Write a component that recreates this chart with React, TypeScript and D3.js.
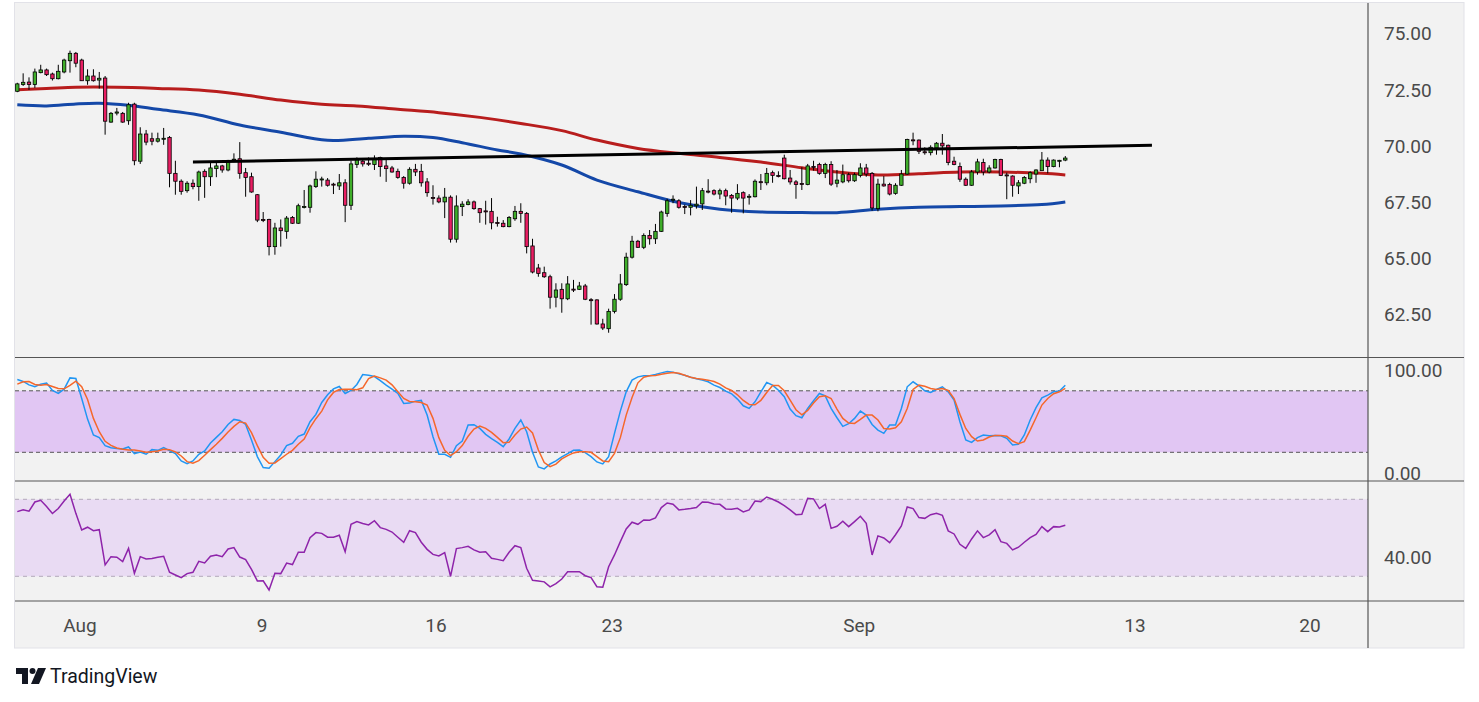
import React from 'react';
import * as d3 from 'd3';

// 4h candles (index 0 = first visible candle)
const opens = [72.42, 72.72, 72.83, 72.72, 73.25, 73.37, 73.19, 72.98, 73.28, 73.78,
  74.11, 73.81, 72.89, 73.10, 72.92, 73.01, 71.05, 71.45, 71.44, 71.11,
  71.85, 69.31, 70.52, 70.31, 70.20, 70.30, 70.37, 68.77, 68.42, 68.00,
  68.33, 68.18, 68.86, 68.62, 68.98, 69.10, 68.92, 69.37, 69.42, 68.80,
  68.62, 67.82, 66.72, 66.72, 65.51, 66.34, 66.19, 66.81, 66.55, 67.25,
  67.26, 68.18, 68.50, 68.47, 68.29, 68.21, 68.35, 67.35, 69.16, 69.31,
  69.22, 69.16, 69.48, 69.10, 69.01, 68.86, 68.59, 68.33, 68.95, 68.86,
  68.39, 67.70, 67.67, 67.50, 67.71, 65.84, 67.29, 67.38, 67.50, 67.20,
  67.10, 67.08, 66.58, 66.55, 66.40, 66.75, 67.08, 66.99, 65.54, 64.56,
  64.35, 64.17, 63.26, 63.61, 63.19, 63.62, 63.61, 63.76, 63.15, 63.14,
  62.07, 61.86, 62.63, 63.17, 63.82, 65.04, 65.75, 65.48, 66.01, 65.86,
  66.19, 66.99, 67.58, 67.55, 67.30, 67.26, 67.33, 67.41, 67.98, 68.00,
  67.85, 68.00, 67.79, 67.67, 67.91, 67.72, 67.73, 68.40, 68.35, 68.80,
  68.67, 69.45, 68.56, 68.39, 68.32, 68.27, 69.08, 69.16, 68.77, 69.16,
  68.33, 68.39, 68.71, 68.44, 68.68, 69.01, 68.77, 67.20, 68.29, 68.27,
  67.88, 68.24, 68.74, 70.26, 70.25, 69.73, 69.69, 69.90, 70.11, 70.02,
  69.31, 69.07, 68.51, 68.24, 68.83, 69.25, 68.83, 69.01, 69.39, 68.70,
  68.65, 68.21, 68.33, 68.53, 68.74, 68.89, 69.36, 69.07, 69.33, 69.36];
const highs = [72.80, 73.22, 73.04, 73.43, 73.60, 73.43, 73.25, 73.60, 73.87, 74.23,
  74.17, 73.87, 73.40, 73.40, 73.28, 73.10, 71.50, 71.68, 71.50, 71.91,
  71.91, 70.82, 70.70, 70.58, 70.58, 70.79, 70.43, 69.33, 68.50, 68.42,
  68.50, 68.89, 68.95, 69.24, 69.27, 69.15, 69.37, 69.66, 70.16, 69.01,
  68.80, 67.85, 67.05, 66.75, 66.57, 66.72, 66.87, 66.87, 67.42, 68.03,
  68.27, 68.86, 68.62, 68.56, 68.35, 68.74, 68.51, 69.33, 69.48, 69.45,
  69.48, 69.57, 69.51, 69.39, 69.10, 68.98, 68.65, 69.04, 69.19, 69.19,
  68.56, 68.24, 67.79, 68.12, 67.79, 67.79, 67.53, 67.62, 67.56, 67.23,
  67.55, 67.67, 66.84, 66.69, 66.87, 67.32, 67.44, 67.05, 65.86, 64.74,
  64.62, 64.26, 63.88, 63.88, 64.20, 64.03, 63.94, 63.85, 63.22, 63.17,
  62.30, 62.75, 63.40, 64.29, 65.24, 65.99, 65.81, 66.10, 66.25, 66.52,
  67.11, 67.64, 67.79, 67.62, 67.38, 67.58, 68.18, 68.12, 68.51, 68.06,
  68.09, 68.09, 67.85, 68.29, 67.97, 67.85, 68.50, 68.74, 69.01, 68.89,
  68.86, 69.60, 68.92, 68.47, 69.04, 69.19, 69.33, 69.24, 69.24, 69.31,
  68.92, 69.16, 68.80, 68.80, 69.22, 69.19, 68.83, 68.53, 68.65, 68.35,
  68.33, 68.92, 70.31, 70.58, 70.28, 69.93, 70.02, 70.16, 70.52, 70.05,
  69.51, 69.25, 68.59, 68.92, 69.42, 69.42, 69.13, 69.42, 69.42, 68.80,
  68.68, 68.47, 68.65, 68.86, 68.95, 69.72, 69.48, 69.39, 69.37, 69.54];
const lows = [72.38, 72.66, 72.48, 72.57, 73.22, 73.10, 72.90, 72.95, 73.22, 73.25,
  73.49, 72.89, 72.71, 72.85, 72.54, 70.49, 71.02, 71.35, 71.02, 70.93,
  69.13, 69.19, 70.02, 70.02, 70.14, 70.04, 68.15, 67.82, 67.82, 67.91,
  68.06, 67.55, 67.68, 68.21, 68.60, 68.80, 68.86, 69.27, 68.53, 67.73,
  67.91, 66.60, 66.60, 65.12, 65.15, 65.51, 65.86, 66.52, 66.52, 67.21,
  67.02, 68.12, 68.18, 68.18, 67.85, 68.03, 66.60, 67.14, 69.01, 69.07,
  69.10, 68.92, 68.62, 68.39, 68.80, 68.53, 68.09, 68.27, 68.65, 68.18,
  67.73, 67.38, 67.44, 66.78, 65.69, 65.69, 66.87, 67.35, 67.15, 66.57,
  66.49, 66.28, 66.40, 66.37, 66.37, 66.66, 66.57, 65.21, 64.32, 64.17,
  64.12, 62.75, 62.81, 62.57, 63.13, 63.49, 63.58, 63.13, 62.04, 62.04,
  61.80, 61.68, 62.54, 63.10, 63.76, 64.98, 65.45, 65.40, 65.60, 65.63,
  66.16, 66.84, 67.44, 67.20, 66.96, 66.90, 67.20, 67.14, 67.88, 67.79,
  67.62, 67.35, 67.02, 67.58, 66.99, 67.38, 67.70, 68.03, 68.24, 68.35,
  68.59, 68.50, 68.27, 67.64, 68.03, 68.24, 68.89, 68.71, 68.56, 68.21,
  68.15, 68.33, 68.36, 68.39, 68.59, 68.62, 67.11, 67.08, 68.18, 67.79,
  67.82, 68.21, 68.71, 70.02, 69.63, 69.60, 69.57, 69.60, 69.60, 69.13,
  69.13, 68.39, 68.21, 68.21, 68.71, 68.68, 68.77, 68.98, 68.65, 67.62,
  67.73, 67.85, 68.29, 68.33, 68.35, 68.89, 68.77, 69.04, 69.04, 69.31];
const closes = [72.75, 72.82, 72.72, 73.28, 73.37, 73.16, 72.98, 73.31, 73.81, 74.11,
  73.67, 72.89, 73.10, 72.89, 73.00, 71.09, 71.44, 71.50, 71.05, 71.82,
  69.33, 70.52, 70.16, 70.20, 70.31, 70.33, 68.77, 68.42, 67.97, 68.33,
  68.18, 68.83, 68.62, 69.01, 69.10, 68.92, 69.28, 69.40, 68.77, 68.59,
  67.94, 66.69, 66.70, 65.51, 66.34, 66.22, 66.78, 66.55, 67.33, 67.30,
  68.21, 68.51, 68.52, 68.24, 68.28, 68.35, 67.35, 69.19, 69.39, 69.19,
  69.20, 69.42, 69.07, 68.98, 68.83, 68.59, 68.33, 68.95, 68.83, 68.35,
  67.91, 67.66, 67.50, 67.71, 65.84, 67.32, 67.40, 67.50, 67.20, 67.02,
  67.07, 66.57, 66.57, 66.40, 66.81, 67.08, 66.99, 65.51, 64.38, 64.32,
  64.17, 63.26, 63.58, 63.19, 63.85, 63.60, 63.76, 63.17, 63.12, 62.07,
  61.89, 62.63, 63.17, 63.85, 65.04, 65.75, 65.48, 66.01, 65.86, 66.19,
  67.05, 67.55, 67.62, 67.26, 67.28, 67.35, 67.40, 68.00, 67.96, 67.85,
  68.00, 67.76, 67.67, 67.88, 67.67, 67.75, 68.42, 68.38, 68.77, 68.68,
  68.64, 68.53, 68.39, 68.27, 68.31, 69.10, 69.06, 68.77, 69.16, 68.29,
  68.47, 68.71, 68.44, 68.71, 69.01, 68.74, 67.23, 68.29, 68.21, 67.85,
  68.24, 68.74, 70.28, 70.24, 69.75, 69.71, 69.93, 70.11, 69.99, 69.25,
  69.16, 68.51, 68.24, 68.83, 69.28, 68.83, 69.01, 69.39, 68.68, 68.66,
  68.24, 68.35, 68.59, 68.80, 68.92, 69.36, 69.07, 69.36, 69.35, 69.45];

// moving averages, read at a few candle positions
const redIdx = [0, 5, 10, 17, 24, 31, 38, 45, 52, 58, 65, 72, 79, 86, 93, 99, 106, 113, 120, 127, 134, 140, 147, 154, 161, 168, 175, 179];
const redMA = [72.49, 72.54, 72.60, 72.60, 72.55, 72.48, 72.29, 72.03, 71.84, 71.77, 71.62, 71.47, 71.26, 70.99, 70.67, 70.25, 69.88, 69.66, 69.48, 69.27, 69.02, 68.83, 68.70, 68.75, 68.83, 68.83, 68.77, 68.70];
const blueIdx = [0, 5, 10, 14, 19, 24, 31, 38, 45, 53, 60, 66, 71, 76, 82, 86, 93, 99, 106, 113, 120, 127, 134, 140, 147, 154, 161, 168, 175, 179];
const blueMA = [71.82, 71.77, 71.86, 71.89, 71.80, 71.62, 71.37, 70.92, 70.60, 70.24, 70.33, 70.42, 70.36, 70.13, 69.81, 69.63, 69.14, 68.47, 67.95, 67.47, 67.17, 67.05, 67.03, 67.02, 67.17, 67.26, 67.29, 67.32, 67.38, 67.50];

// drawn trend line
const trendIdx = [30, 193.8];
const trendVal = [69.27, 70.02];

const stochK = [91.0, 89.1, 85.8, 83.9, 86.5, 87.5, 80.3, 77.4, 81.6, 92.6,
  92.0, 72.5, 52.4, 36.9, 34.3, 26.5, 24.5, 23.6, 23.2, 25.2,
  18.7, 20.3, 18.1, 22.6, 21.9, 24.5, 21.6, 18.7, 11.6, 9.0,
  11.6, 18.1, 21.3, 29.1, 34.6, 40.1, 47.2, 52.1, 51.1, 47.2,
  32.0, 15.8, 5.1, 4.4, 10.9, 17.4, 26.5, 28.8, 35.6, 37.8,
  49.8, 57.0, 68.6, 76.1, 81.9, 84.2, 77.4, 80.3, 86.2, 95.9,
  95.2, 93.9, 90.0, 85.5, 81.6, 77.4, 67.7, 68.0, 69.9, 70.6,
  56.3, 35.2, 18.1, 18.1, 15.1, 26.5, 31.0, 46.6, 46.9, 43.3,
  37.5, 33.3, 29.7, 25.5, 33.0, 43.3, 51.5, 40.1, 20.0, 5.7,
  3.8, 8.6, 11.6, 15.5, 18.7, 21.9, 22.3, 19.7, 15.8, 10.6,
  8.6, 15.8, 38.5, 60.2, 79.0, 90.4, 93.6, 94.6, 94.6, 95.9,
  97.5, 98.8, 98.2, 96.5, 95.2, 93.3, 91.7, 90.4, 88.8, 85.5,
  83.2, 79.7, 77.1, 71.9, 65.4, 62.8, 69.3, 79.0, 88.1, 85.5,
  80.6, 74.2, 62.2, 55.7, 53.7, 62.8, 70.3, 77.4, 75.1, 62.8,
  53.7, 45.3, 47.9, 53.1, 60.2, 56.3, 47.2, 41.7, 38.5, 46.6,
  46.6, 62.8, 83.9, 88.8, 84.9, 80.0, 78.4, 81.3, 83.9, 79.0,
  70.9, 49.8, 32.0, 29.7, 34.3, 36.9, 36.2, 36.5, 36.2, 33.6,
  27.1, 27.8, 36.9, 51.5, 63.5, 73.2, 75.8, 79.0, 79.7, 85.5];
const stochD = [86.5, 88.8, 89.1, 86.2, 85.5, 86.2, 84.2, 82.3, 81.9, 85.2,
  89.4, 83.9, 71.6, 53.1, 40.1, 30.7, 26.8, 24.2, 22.9, 22.3,
  22.3, 21.3, 20.0, 20.6, 21.3, 22.9, 22.6, 20.3, 16.4, 10.9,
  9.3, 11.9, 17.1, 22.6, 27.8, 33.6, 39.8, 45.3, 49.8, 48.5,
  39.1, 26.5, 15.1, 9.3, 9.6, 13.8, 18.1, 21.9, 27.8, 33.0,
  44.0, 52.8, 60.2, 71.2, 78.4, 81.3, 81.6, 81.6, 81.0, 82.9,
  92.0, 94.3, 92.6, 90.4, 85.8, 79.0, 72.5, 69.6, 69.3, 68.6,
  66.1, 53.1, 34.3, 21.9, 16.8, 20.6, 26.5, 35.6, 42.7, 45.6,
  43.3, 39.5, 34.6, 29.4, 29.7, 36.9, 42.7, 44.6, 38.8, 22.3,
  10.0, 6.0, 8.5, 13.5, 16.8, 19.4, 20.6, 20.6, 20.0, 15.8,
  11.6, 10.9, 19.0, 34.3, 56.3, 73.5, 87.8, 93.3, 94.6, 94.9,
  96.2, 97.2, 97.8, 97.2, 95.2, 93.3, 92.0, 91.3, 90.4, 89.1,
  86.5, 82.9, 80.3, 76.1, 70.6, 66.7, 66.4, 70.6, 78.4, 85.2,
  85.2, 80.0, 70.9, 61.5, 56.6, 60.9, 68.0, 74.2, 75.1, 72.5,
  62.2, 53.1, 48.5, 48.2, 52.1, 56.3, 56.3, 51.5, 43.3, 42.7,
  44.0, 49.8, 62.8, 81.3, 85.5, 84.5, 82.3, 81.3, 82.3, 80.3,
  72.5, 57.0, 43.3, 35.2, 31.0, 32.0, 34.9, 36.5, 36.5, 35.6,
  31.0, 28.4, 30.4, 41.7, 53.7, 66.1, 72.5, 77.1, 79.0, 82.3];
const rsi = [63.6, 64.6, 63.8, 68.6, 69.5, 66.2, 62.6, 65.2, 69.1, 72.6,
  62.7, 54.1, 55.5, 53.7, 54.2, 35.9, 40.2, 39.9, 37.6, 44.5,
  31.6, 40.2, 39.0, 39.2, 39.9, 40.4, 32.1, 30.7, 29.3, 31.4,
  32.1, 37.8, 36.9, 40.4, 41.1, 40.2, 44.2, 44.9, 40.0, 38.7,
  33.6, 27.6, 27.7, 22.9, 31.6, 31.4, 36.9, 36.1, 42.5, 42.5,
  50.1, 52.7, 52.3, 50.3, 50.3, 51.3, 42.8, 57.0, 58.4, 57.4,
  56.7, 58.9, 55.3, 54.4, 53.0, 50.3, 47.7, 53.7, 52.7, 47.7,
  44.0, 41.4, 40.6, 42.3, 30.0, 44.4, 44.9, 45.6, 43.7, 42.5,
  42.8, 39.4, 38.8, 38.1, 42.5, 45.9, 44.9, 34.2, 27.9, 27.6,
  27.1, 24.5, 26.2, 28.6, 32.4, 32.4, 32.4, 30.3, 29.3, 24.6,
  24.3, 35.0, 41.1, 48.0, 54.6, 58.1, 57.0, 59.3, 59.1, 60.3,
  65.7, 68.1, 67.4, 64.5, 64.8, 65.2, 65.7, 68.6, 68.5, 67.6,
  67.4, 65.0, 64.8, 65.3, 63.4, 64.5, 69.1, 68.8, 71.2, 70.0,
  68.6, 66.7, 64.5, 62.0, 62.2, 70.5, 70.2, 65.2, 67.4, 54.9,
  56.0, 58.6, 55.8, 58.4, 61.2, 57.5, 41.1, 51.0, 49.9, 47.5,
  51.6, 56.2, 66.0, 65.2, 60.5, 60.1, 62.0, 62.7, 61.7, 53.6,
  52.0, 46.6, 44.5, 49.4, 53.6, 50.1, 51.5, 54.2, 48.0, 47.1,
  43.7, 45.1, 47.7, 50.1, 51.8, 55.8, 53.2, 55.8, 55.6, 56.5];

const priceTicks = [75, 72.5, 70, 67.5, 65, 62.5];
const stochTicks = [100, 0];
const stochBand = [20, 80];
const rsiTicks = [40];
const rsiBand = [30, 70];
const dateLabels = ['Aug', '9', '16', '23', 'Sep', '13', '20'];
const datePos = [10.7, 41.8, 71.5, 101.6, 143.8, 190.9, 220.8];

const UP = '#3fae2a';
const DOWN = '#e91e63';
const AXIS_TEXT = '#4a4a4a';
const SEP = '#555555';

const left = 15;
const right = 1368;
const frameR = 1464;
const priceTop = 3;
const priceBot = 357.5;
const stochBot = 481;
const rsiBot = 601;
const axisBot = 648;

export default function App() {
  const n = closes.length;
  const x = d3.scaleLinear().domain([0, n - 1]).range([17.3, 1065.3]);
  const yP = d3.scaleLinear().domain([62.5, 75]).range([314.3, 33.3]);
  const yS = d3.scaleLinear().domain([0, 100]).range([472.8, 370.3]);
  const yR = d3.scaleLinear().domain([30, 70]).range([576.3, 499.3]);

  const maLine = d3.line<[number, number]>()
    .x(d => x(d[0]))
    .y(d => yP(d[1]))
    .curve(d3.curveCatmullRom.alpha(0.5));
  const redPts = redIdx.map((d, i) => [d, redMA[i]] as [number, number]);
  const bluePts = blueIdx.map((d, i) => [d, blueMA[i]] as [number, number]);

  const stochLine = d3.line<number>().x((d, i) => x(i)).y(d => yS(d));
  const rsiLine = d3.line<number>().x((d, i) => x(i)).y(d => yR(d));

  const bodyW = 3.4;

  return (
    <div style={{ position: 'absolute', left: 0, top: 0 }}>
      <svg width={1479} height={702} style={{ display: 'block', background: '#ffffff' }}
        fontFamily="Roboto, 'Noto Sans', sans-serif">
        <defs>
          <clipPath id="clipPrice"><rect x={left} y={priceTop} width={right - left} height={priceBot - priceTop} /></clipPath>
          <clipPath id="clipStoch"><rect x={left} y={priceBot} width={right - left} height={stochBot - priceBot} /></clipPath>
          <clipPath id="clipRsi"><rect x={left} y={stochBot} width={right - left} height={rsiBot - stochBot} /></clipPath>
        </defs>

        <rect x={14.5} y={2.5} width={frameR - 14.5} height={axisBot - 2.5} fill="#f2f2f2" stroke="#e2e2e8" strokeWidth={1} />

        {/* price pane */}
        <g clipPath="url(#clipPrice)">
          <path d={maLine(redPts) || ''} fill="none" stroke="#b81d1d" strokeWidth={3} />
          <path d={maLine(bluePts) || ''} fill="none" stroke="#1448a8" strokeWidth={3} />
          {closes.map((c, i) => {
            const o = opens[i];
            const top = yP(Math.max(o, c));
            const h = Math.max(1, yP(Math.min(o, c)) - top);
            return (
              <g key={i}>
                <line x1={x(i)} x2={x(i)} y1={yP(highs[i])} y2={yP(lows[i])} stroke="#000" strokeWidth={1} />
                <rect x={x(i) - bodyW / 2} y={top} width={bodyW} height={h}
                  fill={c >= o ? UP : DOWN} stroke="#000" strokeWidth={0.8} />
              </g>
            );
          })}
          <line x1={x(trendIdx[0])} x2={x(trendIdx[1])} y1={yP(trendVal[0])} y2={yP(trendVal[1])}
            stroke="#000" strokeWidth={3} />
        </g>

        {/* stochastic pane */}
        <rect x={left} y={yS(stochBand[1])} width={right - left} height={yS(stochBand[0]) - yS(stochBand[1])} fill="#e1c6f3" />
        {stochBand.map(v => (
          <line key={v} x1={left} x2={right} y1={yS(v)} y2={yS(v)} stroke="#555" strokeWidth={1} strokeDasharray="4 3" />
        ))}
        <g clipPath="url(#clipStoch)">
          <path d={stochLine(stochK) || ''} fill="none" stroke="#2196f3" strokeWidth={1.5} />
          <path d={stochLine(stochD) || ''} fill="none" stroke="#f5672b" strokeWidth={1.5} />
        </g>

        {/* RSI pane */}
        <rect x={left} y={yR(rsiBand[1])} width={right - left} height={yR(rsiBand[0]) - yR(rsiBand[1])} fill="#e9dbf3" />
        {rsiBand.map(v => (
          <line key={v} x1={left} x2={right} y1={yR(v)} y2={yR(v)} stroke="#b3a9bb" strokeWidth={1} strokeDasharray="4 4" />
        ))}
        <g clipPath="url(#clipRsi)">
          <path d={rsiLine(rsi) || ''} fill="none" stroke="#8e24aa" strokeWidth={1.5} />
        </g>

        {/* separators */}
        {[priceBot, stochBot, rsiBot].map(y => (
          <line key={y} x1={left} x2={frameR} y1={y} y2={y} stroke={SEP} strokeWidth={1.2} />
        ))}
        <line x1={right} x2={right} y1={priceTop} y2={axisBot} stroke={SEP} strokeWidth={1.2} />

        {/* axis labels */}
        <g fill={AXIS_TEXT} fontSize={19}>
          {priceTicks.map(v => (
            <text key={'p' + v} x={1384} y={yP(v) + 7}>{v.toFixed(2)}</text>
          ))}
          {stochTicks.map(v => (
            <text key={'s' + v} x={1384} y={yS(v) + 7}>{v.toFixed(2)}</text>
          ))}
          {rsiTicks.map(v => (
            <text key={'r' + v} x={1384} y={yR(v) + 7}>{v.toFixed(2)}</text>
          ))}
          {dateLabels.map((t, i) => (
            <text key={t} x={x(datePos[i])} y={632} textAnchor="middle">{t}</text>
          ))}
        </g>

        {/* logo */}
        <g fill="#131722">
          <path d="M16 668 H28 V684 H22 V674 H16 Z" />
          <circle cx={32.5} cy={671} r={3} />
          <path d="M38 668 H46 L39 684 H31 Z" />
          <text x={50} y={683} fontSize={19.5}>TradingView</text>
        </g>
      </svg>
    </div>
  );
}
